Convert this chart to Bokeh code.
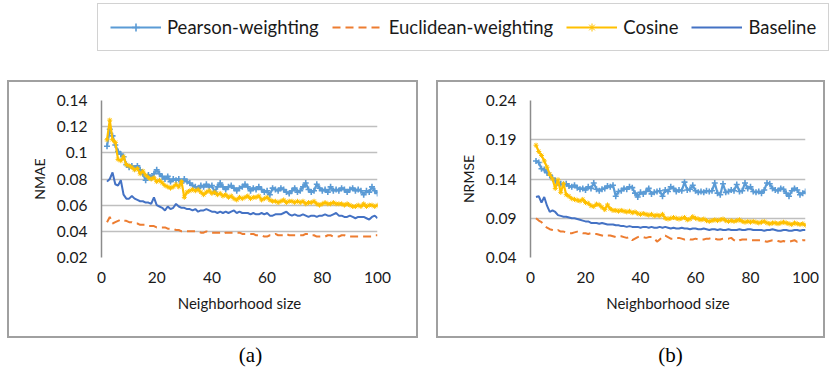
from bokeh.plotting import figure
from bokeh.models import Range1d, FixedTicker, Legend, LegendItem, Label, Spacer
from bokeh.layouts import column, row
from bokeh.embed import file_html
from bokeh.resources import INLINE

# ---------------- data ----------------
sizes = list(range(2, 101))

pearson_a = [0.105, 0.118, 0.113, 0.106, 0.101, 0.099, 0.097, 0.091, 0.089, 0.090,
             0.088, 0.090, 0.087, 0.084, 0.079, 0.083, 0.081, 0.084, 0.087, 0.084,
             0.082, 0.080, 0.082, 0.078, 0.080, 0.079, 0.080, 0.077, 0.080, 0.078,
             0.077, 0.075, 0.074, 0.073, 0.075, 0.074, 0.076, 0.074, 0.075, 0.070,
             0.074, 0.077, 0.074, 0.072, 0.074, 0.075, 0.073, 0.071, 0.073, 0.074,
             0.076, 0.074, 0.071, 0.073, 0.072, 0.074, 0.072, 0.070, 0.071, 0.068,
             0.073, 0.072, 0.071, 0.073, 0.072, 0.070, 0.069, 0.071, 0.073, 0.070,
             0.071, 0.074, 0.077, 0.072, 0.070, 0.071, 0.076, 0.073, 0.071, 0.072,
             0.070, 0.074, 0.071, 0.072, 0.071, 0.073, 0.072, 0.070, 0.072, 0.073,
             0.071, 0.072, 0.071, 0.068, 0.071, 0.070, 0.074, 0.071, 0.069]
euclid_a = [0.047, 0.051, 0.046, 0.047, 0.048, 0.049, 0.048, 0.048, 0.047, 0.047,
            0.046, 0.046, 0.045, 0.045, 0.045, 0.044, 0.044, 0.044, 0.043, 0.043,
            0.043, 0.043, 0.042, 0.042, 0.042, 0.041, 0.041, 0.040, 0.040, 0.040,
            0.040, 0.040, 0.040, 0.040, 0.039, 0.039, 0.040, 0.039, 0.039, 0.039,
            0.039, 0.039, 0.038, 0.039, 0.039, 0.039, 0.039, 0.039, 0.039, 0.038,
            0.038, 0.038, 0.038, 0.038, 0.037, 0.037, 0.037, 0.036, 0.036, 0.037,
            0.037, 0.038, 0.037, 0.037, 0.037, 0.038, 0.037, 0.037, 0.037, 0.037,
            0.037, 0.037, 0.038, 0.038, 0.037, 0.037, 0.036, 0.036, 0.036, 0.036,
            0.037, 0.037, 0.036, 0.036, 0.036, 0.037, 0.037, 0.036, 0.036, 0.036,
            0.036, 0.036, 0.036, 0.036, 0.036, 0.036, 0.036, 0.037, 0.037]
cosine_a = [0.110, 0.125, 0.110, 0.108, 0.095, 0.094, 0.097, 0.091, 0.090, 0.089,
            0.087, 0.088, 0.084, 0.086, 0.083, 0.081, 0.080, 0.081, 0.078, 0.079,
            0.077, 0.075, 0.074, 0.073, 0.074, 0.076, 0.074, 0.078, 0.066, 0.070,
            0.071, 0.072, 0.071, 0.072, 0.070, 0.068, 0.070, 0.071, 0.069, 0.070,
            0.068, 0.069, 0.067, 0.068, 0.066, 0.067, 0.065, 0.064, 0.066, 0.065,
            0.066, 0.067, 0.065, 0.066, 0.066, 0.067, 0.064, 0.065, 0.066, 0.064,
            0.063, 0.063, 0.062, 0.063, 0.064, 0.062, 0.063, 0.063, 0.062, 0.063,
            0.062, 0.063, 0.061, 0.062, 0.062, 0.063, 0.061, 0.060, 0.061, 0.062,
            0.061, 0.061, 0.062, 0.061, 0.061, 0.061, 0.060, 0.061, 0.060, 0.059,
            0.059, 0.060, 0.059, 0.061, 0.059, 0.060, 0.060, 0.059, 0.060]
baseline_a = [0.078, 0.080, 0.085, 0.076, 0.075, 0.079, 0.068, 0.065, 0.065, 0.067,
              0.065, 0.064, 0.063, 0.063, 0.062, 0.062, 0.061, 0.066, 0.060, 0.059,
              0.058, 0.056, 0.059, 0.057, 0.058, 0.061, 0.059, 0.058, 0.058, 0.057,
              0.057, 0.056, 0.057, 0.055, 0.056, 0.056, 0.057, 0.056, 0.055, 0.055,
              0.054, 0.055, 0.054, 0.055, 0.054, 0.055, 0.056, 0.054, 0.055, 0.054,
              0.054, 0.054, 0.053, 0.054, 0.053, 0.053, 0.054, 0.053, 0.054, 0.052,
              0.052, 0.053, 0.053, 0.053, 0.054, 0.055, 0.053, 0.052, 0.053, 0.052,
              0.052, 0.053, 0.052, 0.051, 0.052, 0.052, 0.051, 0.052, 0.052, 0.053,
              0.052, 0.052, 0.053, 0.054, 0.052, 0.052, 0.051, 0.051, 0.052, 0.051,
              0.050, 0.051, 0.051, 0.051, 0.050, 0.049, 0.051, 0.052, 0.050]

pearson_b = [0.163, 0.161, 0.153, 0.152, 0.148, 0.145, 0.141, 0.138, 0.135, 0.134,
             0.133, 0.134, 0.131, 0.130, 0.132, 0.129, 0.127, 0.128, 0.126, 0.130,
             0.128, 0.135, 0.127, 0.125, 0.127, 0.128, 0.131, 0.130, 0.132, 0.118,
             0.124, 0.125, 0.128, 0.127, 0.130, 0.129, 0.122, 0.117, 0.123, 0.121,
             0.124, 0.128, 0.121, 0.123, 0.124, 0.125, 0.118, 0.126, 0.124, 0.130,
             0.128, 0.124, 0.126, 0.125, 0.136, 0.126, 0.127, 0.132, 0.125, 0.123,
             0.124, 0.123, 0.125, 0.124, 0.125, 0.135, 0.122, 0.120, 0.134, 0.123,
             0.124, 0.126, 0.125, 0.133, 0.124, 0.125, 0.135, 0.128, 0.130, 0.124,
             0.123, 0.124, 0.122, 0.126, 0.135, 0.134, 0.128, 0.126, 0.125, 0.128,
             0.127, 0.122, 0.118, 0.125, 0.128, 0.126, 0.120, 0.122, 0.124]
euclid_b = [0.090, 0.087, 0.085, 0.081, 0.078, 0.076, 0.075, 0.074, 0.075, 0.073,
            0.073, 0.072, 0.071, 0.071, 0.072, 0.073, 0.072, 0.071, 0.071, 0.070,
            0.071, 0.070, 0.070, 0.069, 0.068, 0.067, 0.068, 0.068, 0.067, 0.066,
            0.067, 0.067, 0.066, 0.065, 0.066, 0.062, 0.064, 0.066, 0.067, 0.066,
            0.065, 0.066, 0.066, 0.065, 0.060, 0.063, 0.066, 0.068, 0.066, 0.064,
            0.064, 0.065, 0.065, 0.064, 0.063, 0.064, 0.063, 0.063, 0.064, 0.063,
            0.063, 0.063, 0.064, 0.064, 0.065, 0.064, 0.063, 0.063, 0.064, 0.064,
            0.064, 0.065, 0.062, 0.060, 0.062, 0.063, 0.063, 0.063, 0.062, 0.062,
            0.062, 0.062, 0.062, 0.061, 0.060, 0.061, 0.062, 0.062, 0.061, 0.060,
            0.061, 0.060, 0.060, 0.061, 0.062, 0.060, 0.061, 0.062, 0.062]
cosine_b = [0.183, 0.175, 0.170, 0.163, 0.155, 0.146, 0.140, 0.128, 0.139, 0.123,
            0.134, 0.120, 0.118, 0.115, 0.114, 0.113, 0.112, 0.114, 0.110, 0.109,
            0.106, 0.105, 0.108, 0.107, 0.104, 0.101, 0.107, 0.102, 0.100, 0.100,
            0.099, 0.100, 0.099, 0.098, 0.099, 0.097, 0.098, 0.096, 0.095, 0.096,
            0.095, 0.094, 0.095, 0.093, 0.094, 0.093, 0.095, 0.090, 0.089, 0.090,
            0.091, 0.090, 0.089, 0.090, 0.091, 0.088, 0.089, 0.092, 0.090, 0.089,
            0.088, 0.089, 0.087, 0.086, 0.087, 0.088, 0.087, 0.088, 0.089, 0.087,
            0.086, 0.087, 0.086, 0.087, 0.088, 0.086, 0.085, 0.086, 0.085, 0.086,
            0.085, 0.084, 0.085, 0.086, 0.084, 0.083, 0.084, 0.084, 0.083, 0.084,
            0.085, 0.084, 0.083, 0.082, 0.084, 0.083, 0.082, 0.083, 0.081]
baseline_b = [0.117, 0.118, 0.110, 0.117, 0.106, 0.098, 0.100, 0.098, 0.094, 0.093,
              0.092, 0.092, 0.091, 0.090, 0.090, 0.089, 0.088, 0.087, 0.086, 0.086,
              0.084, 0.084, 0.084, 0.083, 0.084, 0.083, 0.082, 0.082, 0.082, 0.081,
              0.081, 0.080, 0.080, 0.079, 0.080, 0.079, 0.079, 0.079, 0.078, 0.079,
              0.079, 0.078, 0.079, 0.078, 0.078, 0.079, 0.078, 0.079, 0.078, 0.077,
              0.078, 0.077, 0.077, 0.078, 0.077, 0.077, 0.076, 0.077, 0.077, 0.076,
              0.076, 0.077, 0.076, 0.075, 0.076, 0.076, 0.075, 0.076, 0.075, 0.075,
              0.076, 0.075, 0.075, 0.075, 0.076, 0.075, 0.075, 0.076, 0.076, 0.075,
              0.075, 0.075, 0.075, 0.074, 0.075, 0.075, 0.076, 0.075, 0.074, 0.074,
              0.075, 0.075, 0.074, 0.074, 0.075, 0.075, 0.074, 0.075, 0.075]

series_names = ["Pearson-weighting", "Euclidean-weighting", "Cosine", "Baseline"]
panel_tags = ["(a)", "(b)"]
x_ticks = [0, 20, 40, 60, 80, 100]
ya_ticks = [0.02, 0.04, 0.06, 0.08, 0.10, 0.12, 0.14]
ya_labels = ["0.02", "0.04", "0.06", "0.08", "0.1", "0.12", "0.14"]
yb_ticks = [0.04, 0.09, 0.14, 0.19, 0.24]
yb_labels = ["0.04", "0.09", "0.14", "0.19", "0.24"]

# ---------------- styles ----------------
C_PEAR = "#5B9BD5"
C_EUC = "#ED7D31"
C_COS = "#FFC000"
C_BASE = "#4472C4"
FONT = "Lato"
TXT = "#1a1a1a"
EDGE = "#a0a0a0"
EW = 2  # panel frame thickness


def bare(width, height):
    f = figure(width=width, height=height, x_range=Range1d(0, 1), y_range=Range1d(0, 1),
               min_border=0, x_axis_location=None, y_axis_location=None,
               outline_line_color=None, toolbar_location=None, output_backend="svg")
    f.xgrid.visible = False
    f.ygrid.visible = False
    return f


def strip(width, height):
    return Spacer(width=width, height=height,
                  styles={"background-color": EDGE, "display": "block"})


def draw_series(p, pear, euc, cos, base):
    rs = {}
    rs["pl"] = p.line(sizes, pear, line_color=C_PEAR, line_width=2.2)
    rs["pm"] = p.scatter(sizes, pear, marker="cross", size=6, line_color=C_PEAR, line_width=1.6)
    rs["e"] = p.line(sizes, euc, line_color=C_EUC, line_width=2, line_dash="8 5")
    rs["cl"] = p.line(sizes, cos, line_color=C_COS, line_width=2.2)
    rs["cm"] = p.scatter(sizes, cos, marker="asterisk", size=5, line_color=C_COS, line_width=1)
    rs["b"] = p.line(sizes, base, line_color=C_BASE, line_width=2)
    return rs


def make_panel(width, left, right, yr, yticks, ylabels, ylab, data):
    p = figure(width=width, height=254, x_range=Range1d(0, 100), y_range=Range1d(*yr),
               min_border_left=left, min_border_right=right, min_border_top=18,
               min_border_bottom=79, toolbar_location=None, output_backend="svg",
               outline_line_color=None)
    draw_series(p, *data)
    xa = p.xaxis[0]
    xa.ticker = FixedTicker(ticks=x_ticks)
    xa.axis_line_color = None
    xa.major_tick_line_color = None
    xa.minor_tick_line_color = None
    xa.major_tick_out = 0
    xa.major_tick_in = 0
    xa.major_label_standoff = 14
    xa.major_label_text_font = FONT
    xa.major_label_text_font_size = "15.5px"
    xa.major_label_text_color = TXT
    xa.axis_label = "Neighborhood size"
    xa.axis_label_text_font = FONT
    xa.axis_label_text_font_size = "15px"
    xa.axis_label_text_font_style = "normal"
    xa.axis_label_text_color = TXT
    xa.axis_label_standoff = 8

    ya = p.yaxis[0]
    ya.ticker = FixedTicker(ticks=yticks)
    ya.major_label_overrides = {t: l for t, l in zip(yticks, ylabels)}
    ya.axis_line_color = "#8c8c8c"
    ya.axis_line_width = 1.5
    ya.major_tick_line_color = None
    ya.minor_tick_line_color = None
    ya.major_tick_out = 0
    ya.major_tick_in = 0
    ya.major_label_standoff = 14
    ya.major_label_text_font = FONT
    ya.major_label_text_font_size = "15.5px"
    ya.major_label_text_color = TXT
    ya.axis_label = ylab
    ya.axis_label_text_font = FONT
    ya.axis_label_text_font_size = "14px"
    ya.axis_label_text_font_style = "normal"
    ya.axis_label_text_color = TXT
    ya.axis_label_standoff = 6

    p.xgrid.visible = False
    p.ygrid.grid_line_color = "#bfbfbf"
    p.ygrid.grid_line_width = 1.5
    return p


def framed(p, outer_w, outer_h):
    inner_h = outer_h - 2 * EW
    return column(strip(outer_w, EW),
                  row(strip(EW, inner_h), p, strip(EW, inner_h)),
                  strip(outer_w, EW))


pa = make_panel(407, 92, 39, (0.02, 0.14), ya_ticks, ya_labels, "NMAE",
                (pearson_a, euclid_a, cosine_a, baseline_a))
pb = make_panel(385, 92, 18, (0.04, 0.24), yb_ticks, yb_labels, "NRMSE",
                (pearson_b, euclid_b, cosine_b, baseline_b))

# ---------------- legend strip ----------------
lf = bare(830, 80)
lf.x_range = Range1d(-20, -10)  # series drawn off-range: only the legend shows
lr = draw_series(lf, pearson_a, euclid_a, cosine_a, baseline_a)
legend = Legend(items=[LegendItem(label=series_names[0], renderers=[lr["pl"], lr["pm"]]),
                       LegendItem(label=series_names[1], renderers=[lr["e"]]),
                       LegendItem(label=series_names[2], renderers=[lr["cl"], lr["cm"]]),
                       LegendItem(label=series_names[3], renderers=[lr["b"]])],
                orientation="horizontal", location=(97, 29),
                padding=12, spacing=13, glyph_width=51, glyph_height=20,
                label_height=20, label_standoff=6,
                label_text_font=FONT, label_text_font_size="18.5px",
                label_text_color=TXT, border_line_color="#a6a6a6",
                border_line_width=1.5, background_fill_color="white")
lf.add_layout(legend, "center")

# ---------------- panel tags strip ----------------
tf = bare(830, 30)
for tx, tag in zip([250, 670], panel_tags):
    tf.add_layout(Label(x=tx, y=16, x_units="canvas", y_units="canvas", text=tag,
                        text_font="Liberation Serif", text_font_size="21px",
                        text_align="center", text_baseline="middle", text_color="#000000"))

layout = column(lf,
                row(Spacer(width=7, height=258), framed(pa, 411, 258),
                    Spacer(width=18, height=258), framed(pb, 389, 258)),
                tf)
open("out.html", "w").write(file_html(layout, INLINE))
